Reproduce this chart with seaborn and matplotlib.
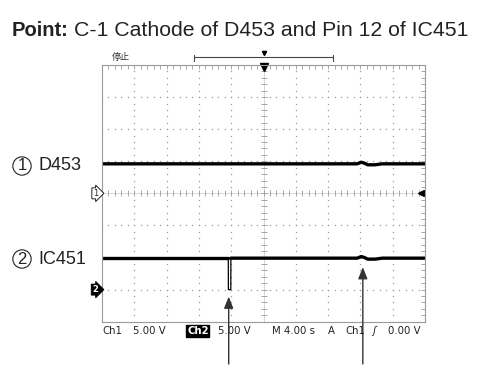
import numpy as np
import pandas as pd
import matplotlib.pyplot as plt
import seaborn as sns
from matplotlib.transforms import blended_transform_factory

# Scope settings (from the bottom status line)
volts_per_div = 5.0
secs_per_div = 4.0
ch1_ground_div = 0
ch2_ground_div = -3

# Trace samples: time (s) and voltage (V)
time_ch1 = [0, 31.6, 32.1, 32.5, 32.9, 33.8, 34.7, 40]
volts_ch1 = [4.6, 4.6, 4.85, 4.7, 4.45, 4.45, 4.6, 4.6]
time_ch2 = [0, 15.64, 15.65, 15.95, 15.96, 31.6, 32.1, 32.5, 32.9, 33.8, 34.7, 40]
volts_ch2 = [4.9, 4.9, 0.0, 0.0, 4.9, 4.9, 5.15, 5.0, 4.75, 4.75, 4.9, 4.9]
# which samples belong to the narrow drop (drawn thin like the scope does)
dip_ch2 = [0, 1, 1, 1, 1, 0, 0, 0, 0, 0, 0, 0]

# Arrow targets
arrow_times = [15.69, 32.3]
arrow_volts = [0.0, 4.9]

title_bold = "Point:"
title_rest = "C-1 Cathode of D453 and Pin 12 of IC451"
channel_labels = ["D453", "IC451"]
status_items = ["Ch1", "5.00 V", "Ch2", "5.00 V", "M 4.00 s", "A", "Ch1", "\u0283", "0.00 V"]
status_x = [102, 133, 187, 218, 272, 328, 345, 372, 388]

sns.set_style("white")
plt.rcParams["font.family"] = ["Liberation Sans", "Noto Sans CJK JP", "DejaVu Sans"]

W, H = 496, 370
fig = plt.figure(figsize=(W / 100, H / 100), dpi=100)
gl, gr, gt, gb = 102, 425, 65, 321.7
ax = fig.add_axes([gl / W, (H - gb) / H, (gr - gl) / W, (gb - gt) / H])
ax.set_xlim(0, 10 * secs_per_div)
ax.set_ylim(-4, 4)

grid_c = "#9a9a9a"
# dotted graticule
for gx in np.arange(1, 10) * secs_per_div:
    if gx == 5 * secs_per_div:
        continue
    yy = np.arange(-4, 4.01, 0.2)
    ax.plot(np.full_like(yy, gx), yy, ls="none", marker="s", ms=0.9, mew=0, color=grid_c)
for gy in range(-3, 4):
    if gy == 0:
        continue
    xx = np.arange(0, 40.01, 0.8)
    ax.plot(xx, np.full_like(xx, gy), ls="none", marker="s", ms=0.9, mew=0, color=grid_c)
# center crosshair with ticks
ax.axhline(0, color="#c8c8c8", lw=0.5)
ax.axvline(20, color="#c8c8c8", lw=0.5)
xx = np.arange(0, 40.01, 0.8)
ax.plot(xx, np.zeros_like(xx), ls="none", marker="|", ms=4, mew=0.6, color=grid_c)
yy = np.arange(-4, 4.01, 0.2)
ax.plot(np.full_like(yy, 20), yy, ls="none", marker="_", ms=4, mew=0.6, color=grid_c)

ax.set_xticks(np.arange(0, 40.01, 0.8))
ax.set_yticks(np.arange(-4, 4.01, 0.2))
ax.tick_params(direction="in", length=3, width=0.6, color=grid_c, top=True, right=True,
               labelbottom=False, labelleft=False, labeltop=False, labelright=False, pad=0)
for s in ax.spines.values():
    s.set_color(grid_c)
    s.set_linewidth(0.8)

# traces
df1 = pd.DataFrame({"t": time_ch1, "div": np.array(volts_ch1) / volts_per_div + ch1_ground_div})
df2 = pd.DataFrame({"t": time_ch2, "div": np.array(volts_ch2) / volts_per_div + ch2_ground_div,
                    "dip": dip_ch2})
sns.lineplot(data=df1, x="t", y="div", ax=ax, color="black", lw=2.4, estimator=None, sort=False)
# thin drop first, then thick baseline pieces
sns.lineplot(data=df2.iloc[1:5], x="t", y="div", ax=ax, color="black", lw=0.9,
             estimator=None, sort=False)
sns.lineplot(data=df2.iloc[0:2], x="t", y="div", ax=ax, color="black", lw=2.4,
             estimator=None, sort=False)
sns.lineplot(data=df2.iloc[4:], x="t", y="div", ax=ax, color="black", lw=2.4,
             estimator=None, sort=False)
ax.set_xlabel("")
ax.set_ylabel("")

# trigger markers
ax.plot(20, 3.93, marker="v", ms=6, color="black", clip_on=False)
ax.plot(39.55, 0, marker="<", ms=4.5, color="black", clip_on=False)

# channel ground markers
trans = blended_transform_factory(ax.transAxes, ax.transData)
ax.text(-0.012, ch1_ground_div, "1", transform=trans, ha="right", va="center", fontsize=6,
        family="DejaVu Sans",
        bbox=dict(boxstyle="rarrow,pad=0.12", fc="white", ec="black", lw=0.6))
ax.text(-0.012, ch2_ground_div, "2", transform=trans, ha="right", va="center", fontsize=6,
        family="DejaVu Sans", fontweight="bold", color="white",
        bbox=dict(boxstyle="rarrow,pad=0.12", fc="black", ec="black", lw=0.6))

# arrows
grounds = [ch2_ground_div, ch2_ground_div]
tips = [7, 9]
for t, v, g, tp in zip(arrow_times, arrow_volts, grounds, tips):
    yd = v / volts_per_div + g
    ypx = gt + (4 - yd) / 8 * (gb - gt)
    ax.annotate("", xy=(t, yd), xycoords="data",
                xytext=(0, -(364 - ypx) * 0.72), textcoords="offset points",
                arrowprops=dict(arrowstyle="-|>,head_length=0.7,head_width=0.28",
                                color="#333333", lw=1, shrinkA=0, shrinkB=tp * 0.72),
                annotation_clip=False)

# top bracket and status
def fx(px):
    return px / W

def fy(py):
    return (H - py) / H

fig.add_artist(plt.Line2D([fx(194), fx(333)], [fy(57.3), fy(57.3)], color="#444", lw=0.8))
for bx in (194, 333):
    fig.add_artist(plt.Line2D([fx(bx), fx(bx)], [fy(54.5), fy(61)], color="#444", lw=0.8))
fig.add_artist(plt.Line2D([fx(264)], [fy(53)], marker="v", ms=3, color="black"))
fig.text(fx(112), fy(57.5), "停止", fontsize=6.5, va="center", ha="left", color="#333",
         family=["Noto Sans CJK JP", "DejaVu Sans"])

# title
fig.text(fx(12), fy(36), title_bold, fontsize=14.5, fontweight="bold", va="baseline", color="#222")
fig.text(fx(74), fy(36), title_rest, fontsize=15.3, va="baseline", color="#222")

# channel labels with circled numbers
for i, (lab, cy) in enumerate(zip(channel_labels, [166, 259])):
    fig.text(fx(22), fy(cy), str(i + 1), fontsize=12, ha="center", va="center", color="#222",
             bbox=dict(boxstyle="circle,pad=0.1", fc="white", ec="#222", lw=0.8))
    fig.text(fx(38), fy(cy), lab, fontsize=13, ha="left", va="center", color="#222")

# status line
for i, (item, x) in enumerate(zip(status_items, status_x)):
    if i == 2:
        fig.text(fx(x), fy(331), item, fontsize=7.3, ha="left", va="center", color="white",
                 family="DejaVu Sans", fontweight="bold",
                 bbox=dict(boxstyle="square,pad=0.08", fc="black", ec="black"))
    else:
        fig.text(fx(x), fy(331), item, fontsize=7.3, ha="left", va="center", color="#222",
                 family="DejaVu Sans", style="italic" if i == 7 else "normal")

plt.savefig("out.png", dpi=100)
